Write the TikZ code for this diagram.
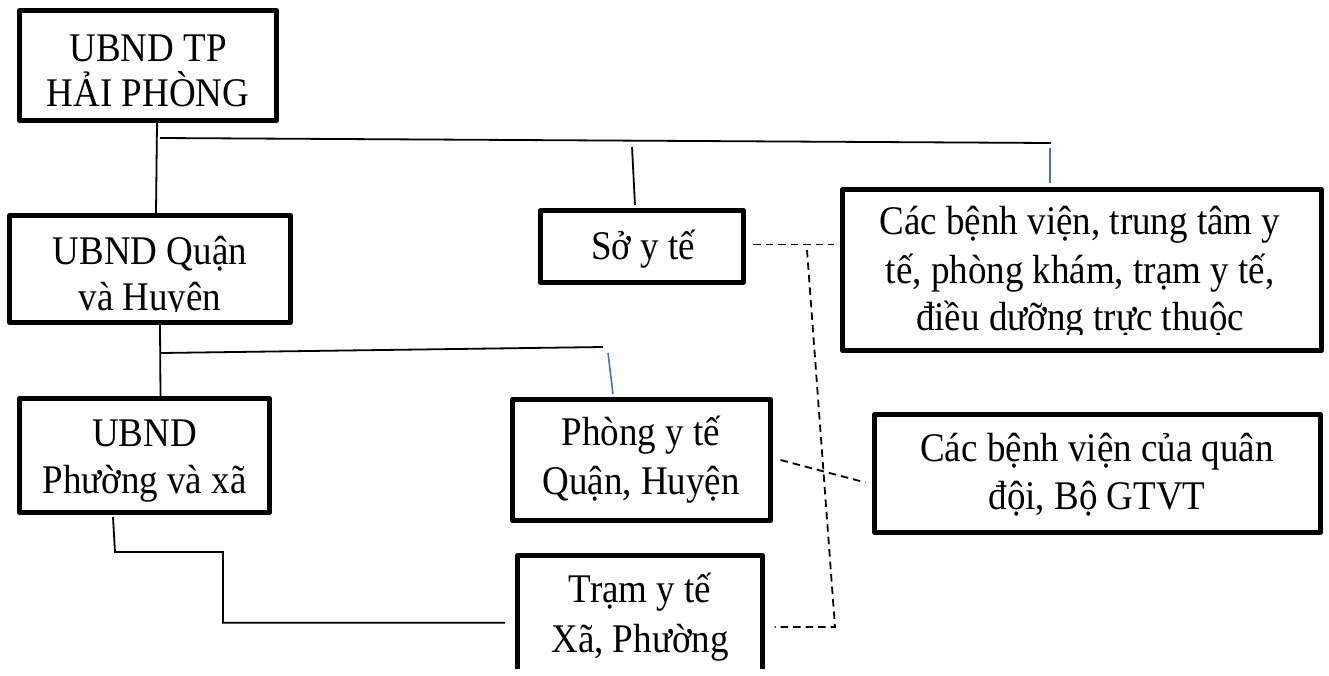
\documentclass[tikz,border=0pt]{standalone}
\usepackage{fontspec}
\usepackage{graphicx}
\setmainfont{Liberation Serif}
\usetikzlibrary{calc}
\definecolor{wordblue}{RGB}{68,114,196}
\newcommand{\tallt}[1]{\scalebox{1}[1.1]{#1}}
\tikzset{
  box/.style={draw, line width=5pt, rectangle, inner sep=0pt, line join=round},
  conn/.style={line width=1.8pt},
  dconn/.style={line width=1.8pt, dash pattern=on 7.5pt off 5pt},
  bconn/.style={line width=1.6pt, draw=wordblue},
  lbl/.style={anchor=base, inner sep=0pt, font=\fontsize{37}{44}\selectfont}
}
\begin{document}
\begin{tikzpicture}[x=1pt,y=-1pt]
\useasboundingbox (0,0) rectangle (1329,675);
% boxes
\node[box, minimum width=257pt, minimum height=110pt] (b1) at (148,65.5) {};
\node[box, minimum width=281pt, minimum height=107pt] (b2) at (150,269) {};
\node[box, minimum width=203pt, minimum height=72pt] (b3) at (642,246.5) {};
\node[box, minimum width=479pt, minimum height=161pt] (b4) at (1082,270) {};
\node[box, minimum width=250pt, minimum height=114pt] (b5) at (144.5,455.5) {};
\node[box, minimum width=258pt, minimum height=121pt] (b6) at (641.5,460) {};
\node[box, minimum width=446pt, minimum height=118pt] (b7) at (1097.5,473.5) {};
\begin{scope}
  \clip (0,0) rectangle (1329,668);
  \node[box, minimum width=245pt, minimum height=134.5pt] (b8) at (640,622.75) {};
\end{scope}
% texts
\node[lbl] (t1a) at (148,61) {\tallt{UBND TP}};
\node[lbl] (t1b) at (148,106) {\tallt{HẢI PHÒNG}};
\node[lbl] (t2a) at (150,264) {\tallt{UBND Quận}};
\begin{scope}
  \clip (0,0) rectangle (1329,311);
  \node[lbl] (t2b) at (150,310) {\tallt{và Huyện}};
\end{scope}
\node[lbl] (t3) at (643,259) {\tallt{Sở y tế}};
\node[lbl] (t4a) at (1080,234) {\tallt{Các bệnh viện, trung tâm y}};
\node[lbl] (t4b) at (1080,283) {\tallt{tế, phòng khám, trạm y tế,}};
\begin{scope}
  \clip (0,0) rectangle (1329,334);
  \node[lbl] (t4c) at (1080,330) {\tallt{điều dưỡng trực thuộc}};
\end{scope}
\node[lbl] (t5a) at (144.5,446) {\tallt{UBND}};
\node[lbl] (t5b) at (144.5,493) {\tallt{Phường và xã}};
\node[lbl] (t6a) at (641,445) {\tallt{Phòng y tế}};
\node[lbl] (t6b) at (641,494) {\tallt{Quận, Huyện}};
\node[lbl] (t7a) at (1097,461) {\tallt{Các bệnh viện của quân}};
\node[lbl] (t7b) at (1097,509) {\tallt{đội, Bộ GTVT}};
\node[lbl] (t8a) at (640,602) {\tallt{Trạm y tế}};
\node[lbl] (t8b) at (640,652) {\tallt{Xã, Phường}};
% solid connectors, level 1
\coordinate (h1a) at (160,138);
\coordinate (h1b) at (1051,143);
\coordinate (s1) at (632,147);
\coordinate (bl1) at (1050,148);
\draw[conn] ([xshift=9pt]b1.south) -- ([xshift=6pt]b2.north);
\draw[conn] (h1a) -- (h1b);
\draw[conn] (s1) -- ([xshift=-7pt,yshift=3pt]b3.north);
\draw[bconn] (bl1) -- ([xshift=-32pt,yshift=4.5pt]b4.north);
% level 2
\coordinate (h2a) at (161,353);
\coordinate (h2b) at (603,347);
\coordinate (bl2) at (608,353);
\draw[conn] ([xshift=10pt]b2.south) -- ([xshift=16pt]b5.north);
\draw[conn] (h2a) -- (h2b);
\draw[bconn] (bl2) -- ([xshift=-28.5pt,yshift=3pt]b6.north);
% b5 to b8
\coordinate (p1) at (115,552);
\coordinate (p2) at (223,552);
\draw[conn] ([xshift=-31.5pt,yshift=-2pt]b5.south) -- (p1) -- (p2) |- ([xshift=-10pt]b8.west);
% dashed
\coordinate (v1) at (807,250);
\coordinate (v2) at (835,627);
\draw[dconn] ([xshift=7pt,yshift=2pt]b3.east) -- ($(b4.west |- b3.east)+(-6,-2)$);
\draw[dconn] (v1) -- (v2) -- ($(b8.east |- v2)+(9.5,0)$);
\draw[dconn] ([xshift=7.5pt]b6.east) -- ([xshift=-6.5pt,yshift=-9pt]b7.west);
\end{tikzpicture}
\end{document}
